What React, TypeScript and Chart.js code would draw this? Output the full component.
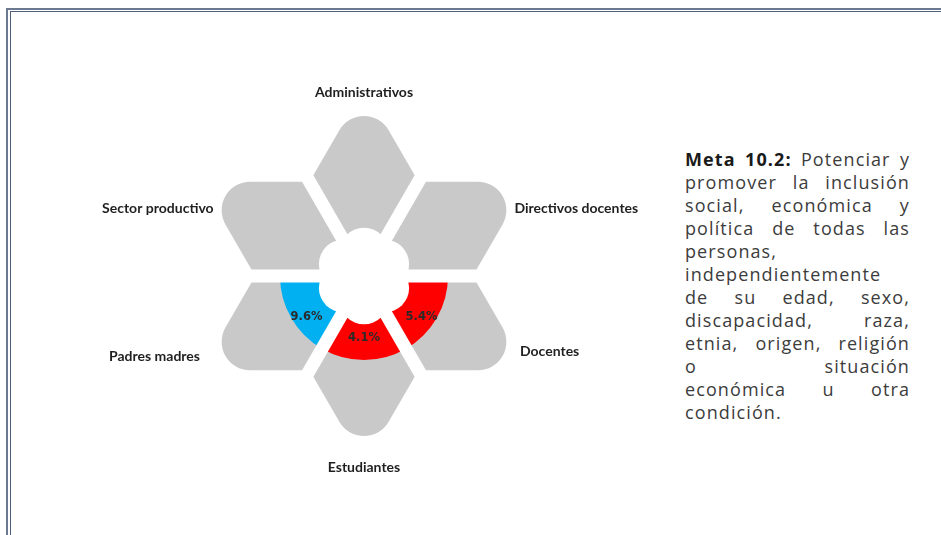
import React, { useEffect, useRef } from "react";
import { Chart, registerables } from "chart.js";

Chart.register(...registerables);

// Categories clockwise, starting at 3 o'clock
const categories = [
  "Docentes",
  "Estudiantes",
  "Padres madres",
  "Sector productivo",
  "Administrativos",
  "Directivos docentes",
];
const shares = [1, 1, 1, 1, 1, 1];
const percentages: (number | null)[] = [5.4, 4.1, 9.6, null, null, null];
const highlightColors: (string | null)[] = ["#ff0000", "#ff0000", "#00b0f0", null, null, null];
const petalColor = "#c9c9c9";

const metaTitle = "Meta 10.2:";
const metaLines: { text: string; justify: boolean }[] = [
  { text: "Potenciar y", justify: true },
  { text: "promover la inclusión", justify: true },
  { text: "social, económica y", justify: true },
  { text: "política de todas las", justify: true },
  { text: "personas,", justify: false },
  { text: "independientemente", justify: false },
  { text: "de su edad, sexo,", justify: true },
  { text: "discapacidad, raza,", justify: true },
  { text: "etnia, origen, religión", justify: true },
  { text: "o situación", justify: true },
  { text: "económica u otra", justify: true },
  { text: "condición.", justify: false },
];

const flowerPlugin = {
  id: "flower",
  beforeDatasetsDraw(chart: any) {
    const ctx = chart.ctx as CanvasRenderingContext2D;
    const meta = chart.getDatasetMeta(0);
    ctx.save();
    ctx.fillStyle = petalColor;
    meta.data.forEach((el: any) => {
      const { x, y, startAngle, endAngle, outerRadius } = el.getProps(
        ["x", "y", "startAngle", "endAngle", "outerRadius"],
        true
      );
      const R = outerRadius;
      const side = 0.68 * R;
      const half = (endAngle - startAngle) / 2;
      const mid = startAngle + half;
      const tipDist = 2 * side * Math.cos(half);
      const sh = Math.sin(half);
      const rt = ((tipDist - R) * sh) / (1 - sh);
      const c1x = x + side * Math.cos(startAngle);
      const c1y = y + side * Math.sin(startAngle);
      const c2x = x + side * Math.cos(endAngle);
      const c2y = y + side * Math.sin(endAngle);
      const tx = x + tipDist * Math.cos(mid);
      const ty = y + tipDist * Math.sin(mid);
      ctx.beginPath();
      ctx.moveTo(x, y);
      ctx.arcTo(c1x, c1y, tx, ty, 0.04 * R);
      ctx.arcTo(tx, ty, c2x, c2y, rt);
      ctx.arcTo(c2x, c2y, x, y, 0.04 * R);
      ctx.closePath();
      ctx.fill();
    });
    ctx.restore();
  },
  afterDatasetsDraw(chart: any) {
    const ctx = chart.ctx as CanvasRenderingContext2D;
    const arcs = chart.getDatasetMeta(0).data;
    const inner = chart.getDatasetMeta(1).data;
    const { x, y, outerRadius: R } = arcs[0].getProps(["x", "y", "outerRadius"], true);
    ctx.save();
    // white gaps between petals
    ctx.strokeStyle = "#ffffff";
    ctx.lineWidth = 0.082 * R;
    ctx.lineCap = "butt";
    arcs.forEach((el: any) => {
      const a = el.startAngle;
      ctx.beginPath();
      ctx.moveTo(x, y);
      ctx.lineTo(x + 1.12 * R * Math.cos(a), y + 1.12 * R * Math.sin(a));
      ctx.stroke();
    });
    // white cloud in the centre
    ctx.fillStyle = "#ffffff";
    ctx.beginPath();
    ctx.arc(x, y, 0.2 * R, 0, Math.PI * 2);
    ctx.fill();
    arcs.forEach((el: any) => {
      const m = (el.startAngle + el.endAngle) / 2;
      ctx.beginPath();
      ctx.arc(x + 0.15 * R * Math.cos(m), y + 0.15 * R * Math.sin(m), 0.152 * R, 0, Math.PI * 2);
      ctx.fill();
    });
    // percentage labels
    ctx.font = 'bold 11.5px "DejaVu Sans", sans-serif';
    ctx.fillStyle = "#2a2a2a";
    ctx.textAlign = "center";
    ctx.textBaseline = "middle";
    inner.forEach((el: any, i: number) => {
      const v = percentages[i];
      if (v == null) return;
      const m = (el.startAngle + el.endAngle) / 2;
      ctx.fillText(
        v.toFixed(1) + "%",
        x + 0.415 * R * Math.cos(m),
        y + 0.27 * R * Math.sin(m) + 0.12 * R
      );
    });
    // category labels
    ctx.font = 'bold 14px "Lato", sans-serif';
    ctx.fillStyle = "#1f1f1f";
    arcs.forEach((el: any, i: number) => {
      const m = (el.startAngle + el.endAngle) / 2;
      const c = Math.cos(m);
      const s = Math.sin(m);
      let lx: number;
      let ly: number;
      if (Math.abs(c) < 0.1) {
        ctx.textAlign = "center";
        lx = x;
        ly = y + s * R * 1.17 + 4;
      } else {
        ctx.textAlign = c > 0 ? "left" : "right";
        const fx = s < 0 ? 0.94 : c > 0 ? 0.975 : 1.025;
        lx = x + Math.sign(c) * R * fx;
        ly = y + s * R * (s < 0 ? 0.84 : (c > 0 ? 0.94 : 1.0));
      }
      ctx.fillText(categories[i], lx, ly);
    });
    ctx.restore();
  },
};

export default function App() {
  const canvasRef = useRef<HTMLCanvasElement | null>(null);

  useEffect(() => {
    if (!canvasRef.current) return;
    const chart = new Chart(canvasRef.current, {
      type: "doughnut",
      data: {
        labels: categories,
        datasets: [
          {
            label: "Grupos",
            data: shares,
            backgroundColor: "rgba(0,0,0,0)",
            borderWidth: 0,
            weight: 19,
          },
          {
            label: "Participación",
            data: shares,
            backgroundColor: highlightColors.map((c) => c ?? "rgba(0,0,0,0)"),
            borderWidth: 0,
            weight: 13,
          },
        ],
      },
      options: {
        responsive: false,
        animation: false,
        rotation: 90,
        cutout: "20%",
        events: [],
        layout: { padding: { left: 124, right: 136, top: 46, bottom: 54 } },
        plugins: {
          legend: { display: false },
          tooltip: { enabled: false },
        },
      } as any,
      plugins: [flowerPlugin],
    });
    return () => chart.destroy();
  }, []);

  return (
    <div
      style={{
        position: "fixed",
        left: 0,
        top: 0,
        width: 941,
        height: 535,
        background: "#ffffff",
        overflow: "hidden",
      }}
    >
      <div
        style={{
          position: "absolute",
          left: 6,
          top: 8,
          width: 960,
          height: 560,
          borderLeft: "2px solid #6b7a90",
          borderTop: "2px solid #6b7a90",
        }}
      />
      <div
        style={{
          position: "absolute",
          left: 10,
          top: 11,
          width: 960,
          height: 560,
          borderLeft: "1px solid #4f5f78",
          borderTop: "1px solid #4f5f78",
        }}
      />
      <canvas
        ref={canvasRef}
        width={580}
        height={420}
        style={{ position: "absolute", left: 80, top: 70, width: 580, height: 420 }}
      />
      <div
        style={{
          position: "absolute",
          left: 685,
          top: 148,
          width: 225,
          fontFamily: '"Open Sans", sans-serif',
          fontSize: 18,
          lineHeight: "23px",
          color: "#3c3c3c",
          letterSpacing: "1.1px",
        }}
      >
        {metaLines.map((ln, i) => (
          <div
            key={i}
            style={{
              whiteSpace: "nowrap",
              textAlign: ln.justify ? "justify" : "left",
              textAlignLast: ln.justify ? "justify" : "left",
            } as any}
          >
            {i === 0 ? (
              <>
                <b style={{ color: "#1a1a1a" }}>{metaTitle}</b> {ln.text}
              </>
            ) : (
              ln.text
            )}
          </div>
        ))}
      </div>
    </div>
  );
}
